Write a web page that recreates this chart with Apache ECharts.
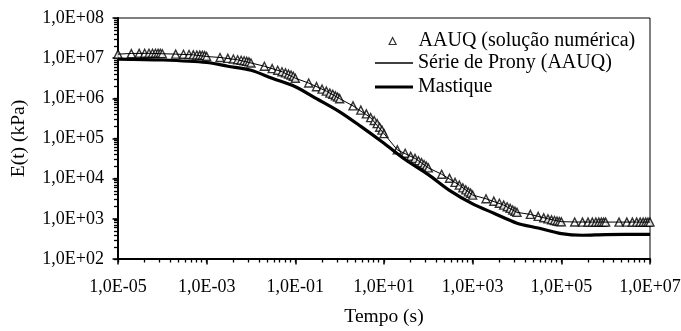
<!DOCTYPE html>
<html><head><meta charset="utf-8">
<script src="https://cdn.jsdelivr.net/npm/echarts@6/dist/echarts.min.js"></script>
<style>html,body{margin:0;padding:0;background:#fff}#c{width:681px;height:331px}</style>
</head><body><div id="c"></div>
<script>
// ---- tick labels ----
const xLabelValues = [1e-5, 1e-3, 1e-1, 1e1, 1e3, 1e5, 1e7];
const yLabelValues = [1e2, 1e3, 1e4, 1e5, 1e6, 1e7, 1e8];
const xMinorMultipliers = [4, 8.6, 15, 23, 33, 44, 58, 76];
const yMinorMultipliers = [2, 3, 4, 5, 6, 7, 8, 9];

// ---- series names ----
const seriesNames = ['AAUQ (solução numérica)', 'Série de Prony (AAUQ)', 'Mastique'];

// ---- AAUQ (numerical solution), triangles ----
const aauqTime = [
  1e-5,2e-5,3e-5,4e-5,5e-5,6e-5,7e-5,8e-5,9e-5,
  1e-4,2e-4,3e-4,4e-4,5e-4,6e-4,7e-4,8e-4,9e-4,
  1e-3,2e-3,3e-3,4e-3,5e-3,6e-3,7e-3,8e-3,9e-3,
  1e-2,2e-2,3e-2,4e-2,5e-2,6e-2,7e-2,8e-2,9e-2,
  0.1,0.2,0.3,0.4,0.5,0.6,0.7,0.8,0.9,
  1,2,3,4,5,6,7,8,9,
  10,20,30,40,50,60,70,80,90,
  100,200,300,400,500,600,700,800,900,
  1e3,2e3,3e3,4e3,5e3,6e3,7e3,8e3,9e3,
  1e4,2e4,3e4,4e4,5e4,6e4,7e4,8e4,9e4,
  1e5,2e5,3e5,4e5,5e5,6e5,7e5,8e5,9e5,
  1e6,2e6,3e6,4e6,5e6,6e6,7e6,8e6,9e6,
  1e7
];
const aauqE = [
  1.26e7,1.30e7,1.32e7,1.33e7,1.33e7,1.33e7,1.33e7,1.33e7,1.33e7,
  1.29e7,1.26e7,1.25e7,1.23e7,1.21e7,1.20e7,1.19e7,1.18e7,1.16e7,
  1.10e7,1.04e7,9.9e6,9.5e6,9.1e6,8.9e6,8.6e6,8.3e6,8.1e6,
  7.6e6,6.3e6,5.5e6,5.0e6,4.6e6,4.3e6,4.0e6,3.8e6,3.55e6,
  3.16e6,2.4e6,1.95e6,1.7e6,1.51e6,1.35e6,1.26e6,1.15e6,1.07e6,
  9.8e5,6.5e5,5.1e5,4.1e5,3.3e5,2.8e5,2.35e5,1.9e5,1.62e5,
  1.32e5,5.2e4,4.3e4,3.6e4,3.2e4,2.8e4,2.5e4,2.25e4,2.05e4,
  1.86e4,1.29e4,1.02e4,8.1e3,6.9e3,5.9e3,5.25e3,4.7e3,4.35e3,
  3.9e3,3.16e3,2.75e3,2.45e3,2.2e3,2.0e3,1.82e3,1.66e3,1.55e3,
  1450,1290,1150,1060,1000,945,910,880,860,
  840,835,830,830,830,830,830,830,830,
  830,830,830,830,830,830,830,830,830,
  830
];

// ---- Prony series (AAUQ), thin line ----
const pronyTime = [1e-5,2e-5,5e-5,1e-4,2e-4,5e-4,1e-3,2e-3,5e-3,1e-2,2e-2,5e-2,0.1,0.2,0.5,1,2,5,10,20,50,100,200,500,1e3,2e3,5e3,1e4,2e4,5e4,1e5,2e5,5e5,1e6,2e6,5e6,1e7];
const pronyE = [1.26e7,1.31e7,1.32e7,1.29e7,1.26e7,1.21e7,1.10e7,1.04e7,9.1e6,7.6e6,6.3e6,4.6e6,3.16e6,2.4e6,1.51e6,9.8e5,6.5e5,3.3e5,1.32e5,5.2e4,3.2e4,1.86e4,1.29e4,6.9e3,3.9e3,3.16e3,2.2e3,1450,1290,1000,850,835,830,830,830,830,830];

// ---- Mastique, thick line ----
const mastTime = [1e-5,1e-4,1e-3,3e-3,1e-2,3e-2,0.1,0.3,1,3,10,30,100,300,1e3,3e3,1e4,3e4,1e5,3e5,1e6,1e7];
const mastE = [9.5e6,9.0e6,7.8e6,6.3e6,5.0e6,3.16e6,1.95e6,9.8e5,4.6e5,2.0e5,7.6e4,3.0e4,1.26e4,5.1e3,2.35e3,1.38e3,780,590,427,390,405,410];

// ---- derived tick positions ----
const xAllTicks = xLabelValues.slice();
xLabelValues.slice(0, -1).forEach(v => xMinorMultipliers.forEach(m => xAllTicks.push(v * m)));
const yAllTicks = yLabelValues.slice();
yLabelValues.slice(0, -1).forEach(v => yMinorMultipliers.forEach(m => yAllTicks.push(v * m)));

const FONT = "'Liberation Serif','Times New Roman',serif";
const fmt = v => {
  const e = Math.round(Math.log10(v));
  return '1,0E' + (e < 0 ? '-' : '+') + String(Math.abs(e)).padStart(2, '0');
};
const zip = (a, b) => a.map((t, i) => [t, b[i]]);
const legendText = {fontFamily: FONT, fontSize: 20, color: '#000'};

const chart = echarts.init(document.getElementById('c'), null, {renderer: 'canvas'});
chart.setOption({
  animation: false,
  backgroundColor: '#fff',
  grid: {left: 118, right: 31, top: 18, bottom: 72, containLabel: false, outerBoundsMode: 'none',
         show: true, borderColor: '#000', borderWidth: 1, backgroundColor: 'transparent'},
  legend: [
    {
      selectedMode: false, orient: 'vertical', left: 388.5, top: 31, padding: 0,
      itemWidth: 7, itemHeight: 7, icon: 'triangle',
      itemStyle: {color: '#fff', borderColor: '#000', borderWidth: 1.2},
      textStyle: Object.assign({padding: [0, 0, 0, 17.5]}, legendText),
      data: [seriesNames[0]]
    },
    {
      selectedMode: false, orient: 'vertical', left: 375, top: 53, padding: 0,
      itemWidth: 38, itemHeight: 1.6, icon: 'rect',
      itemStyle: {color: '#000', borderWidth: 0},
      textStyle: legendText,
      data: [seriesNames[1]]
    },
    {
      selectedMode: false, orient: 'vertical', left: 375, top: 77, padding: 0,
      itemWidth: 38, itemHeight: 3, icon: 'rect',
      itemStyle: {color: '#000', borderWidth: 0},
      textStyle: legendText,
      data: [seriesNames[2]]
    }
  ],
  xAxis: [
    {
      type: 'log', logBase: 10, min: 1e-5, max: 1e7, position: 'bottom',
      name: 'Tempo (s)', nameLocation: 'middle', nameGap: 48,
      nameTextStyle: {fontFamily: FONT, fontSize: 19.5, color: '#000'},
      axisLine: {show: true, lineStyle: {color: '#000', width: 2}},
      axisTick: {show: true, inside: false, length: 3.5, customValues: xAllTicks, lineStyle: {color: '#000', width: 1.3}},
      axisLabel: {customValues: xLabelValues, formatter: fmt, margin: 19, fontFamily: FONT, fontSize: 18, color: '#000'},
      splitLine: {show: false}, minorTick: {show: false}, minorSplitLine: {show: false}
    },
    {
      type: 'log', logBase: 10, min: 1e-5, max: 1e7, position: 'bottom',
      axisLine: {show: false},
      axisTick: {show: true, inside: false, length: 5.5, customValues: xLabelValues, lineStyle: {color: '#000', width: 1.5}},
      axisLabel: {show: false}, splitLine: {show: false}
    }
  ],
  yAxis: [
    {
      type: 'log', logBase: 10, min: 1e2, max: 1e8, position: 'left',
      name: 'E(t) (kPa)', nameLocation: 'middle', nameGap: 89, nameRotate: 90,
      nameTextStyle: {fontFamily: FONT, fontSize: 19.5, color: '#000'},
      axisLine: {show: true, lineStyle: {color: '#000', width: 2}},
      axisTick: {show: true, inside: false, length: 4, customValues: yAllTicks, lineStyle: {color: '#000', width: 1.3}},
      axisLabel: {customValues: yLabelValues, formatter: fmt, margin: 14, fontFamily: FONT, fontSize: 18, color: '#000'},
      splitLine: {show: false}, minorTick: {show: false}, minorSplitLine: {show: false}
    },
    {
      type: 'log', logBase: 10, min: 1e2, max: 1e8, position: 'left',
      axisLine: {show: false},
      axisTick: {show: true, inside: false, length: 5.5, customValues: yLabelValues, lineStyle: {color: '#000', width: 1.5}},
      axisLabel: {show: false}, splitLine: {show: false}
    }
  ],
  series: [
    {
      name: seriesNames[0], type: 'scatter', xAxisIndex: 0, yAxisIndex: 0,
      data: zip(aauqTime, aauqE), symbol: 'triangle', symbolSize: 8,
      itemStyle: {color: '#fff', borderColor: '#000', borderWidth: 1.4}
    },
    {
      name: seriesNames[1], type: 'line', xAxisIndex: 0, yAxisIndex: 0,
      data: zip(pronyTime, pronyE), symbol: 'none', showSymbol: false,
      lineStyle: {color: '#000', width: 1}, itemStyle: {color: '#000'}
    },
    {
      name: seriesNames[2], type: 'line', xAxisIndex: 0, yAxisIndex: 0,
      data: zip(mastTime, mastE), symbol: 'none', showSymbol: false, smooth: 0.3,
      lineStyle: {color: '#000', width: 3.2}, itemStyle: {color: '#000'}
    }
  ]
});
</script>
</body></html>
